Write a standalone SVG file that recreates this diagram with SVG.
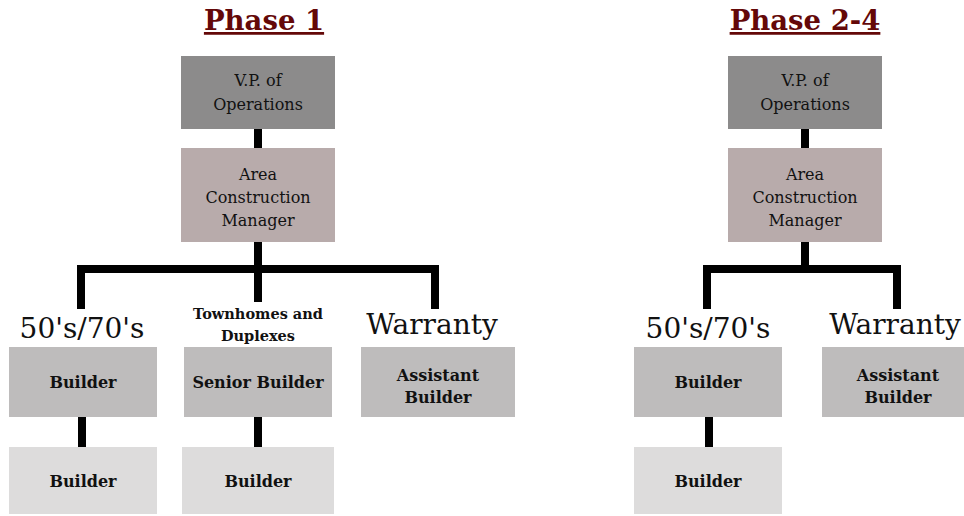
<svg xmlns="http://www.w3.org/2000/svg" width="964" height="516" viewBox="0 0 964 516">
<style>
.t{font-family:"DejaVu Serif","Liberation Serif",serif;fill:#111;text-anchor:middle}
.title{font-size:27.5px;font-weight:bold;fill:#640808;text-decoration:underline}
.box{font-size:16px}
.bold{font-weight:bold}
.lbl{font-size:28px}
.small{font-size:14.5px;font-weight:bold}
.vp{fill:#8c8b8b}
.acm{fill:#b8abab}
.b1{fill:#bebcbc}
.b2{fill:#dddcdc}
.c{fill:none;stroke:#000;stroke-width:8}
</style>
<rect width="964" height="516" fill="#fff"/>
<g id="connectors">
<path class="c" d="M258 129V149M258 242V269M81 309V269H435V309M258 269V302M82 417V447M258 417V447"/>
<path class="c" d="M805 129V149M805 242V269M707 309V269H897V309M709 417V447"/>
</g>
<g id="title1"><text class="t title" x="264" y="30">Phase 1</text></g>
<g id="title2"><text class="t title" x="805" y="30">Phase 2-4</text></g>
<g id="p1-vp"><rect class="vp" x="181" y="56" width="154" height="73"/><text class="t box" x="258" y="86">V.P. of</text><text class="t box" x="258" y="110">Operations</text></g>
<g id="p1-acm"><rect class="acm" x="181" y="148" width="154" height="94"/><text class="t box" x="258" y="180">Area</text><text class="t box" x="258" y="203">Construction</text><text class="t box" x="258" y="226">Manager</text></g>
<g id="p1-lbl50"><text class="t lbl" x="82" y="338">50's/70's</text></g>
<g id="p1-lblth"><text class="t small" x="258" y="319">Townhomes and</text><text class="t small" x="258" y="341">Duplexes</text></g>
<g id="p1-lblw"><text class="t lbl" x="432" y="334">Warranty</text></g>
<g id="p1-b1"><rect class="b1" x="9" y="347" width="148" height="70"/><text class="t box bold" x="83" y="388">Builder</text></g>
<g id="p1-sb"><rect class="b1" x="184" y="347" width="148" height="70"/><text class="t box bold" x="258" y="388">Senior Builder</text></g>
<g id="p1-ab"><rect class="b1" x="361" y="347" width="154" height="70"/><text class="t box bold" x="438" y="381">Assistant</text><text class="t box bold" x="438" y="403">Builder</text></g>
<g id="p1-b2"><rect class="b2" x="9" y="447" width="148" height="67"/><text class="t box bold" x="83" y="487">Builder</text></g>
<g id="p1-b3"><rect class="b2" x="182" y="447" width="152" height="67"/><text class="t box bold" x="258" y="487">Builder</text></g>
<g id="p2-vp"><rect class="vp" x="728" y="56" width="154" height="73"/><text class="t box" x="805" y="86">V.P. of</text><text class="t box" x="805" y="110">Operations</text></g>
<g id="p2-acm"><rect class="acm" x="728" y="148" width="154" height="94"/><text class="t box" x="805" y="180">Area</text><text class="t box" x="805" y="203">Construction</text><text class="t box" x="805" y="226">Manager</text></g>
<g id="p2-lbl50"><text class="t lbl" x="708" y="338">50's/70's</text></g>
<g id="p2-lblw"><text class="t lbl" x="895" y="334">Warranty</text></g>
<g id="p2-b1"><rect class="b1" x="634" y="347" width="148" height="70"/><text class="t box bold" x="708" y="388">Builder</text></g>
<g id="p2-ab"><rect class="b1" x="822" y="347" width="150" height="70"/><text class="t box bold" x="898" y="381">Assistant</text><text class="t box bold" x="898" y="403">Builder</text></g>
<g id="p2-b2"><rect class="b2" x="634" y="447" width="148" height="67"/><text class="t box bold" x="708" y="487">Builder</text></g>
</svg>
